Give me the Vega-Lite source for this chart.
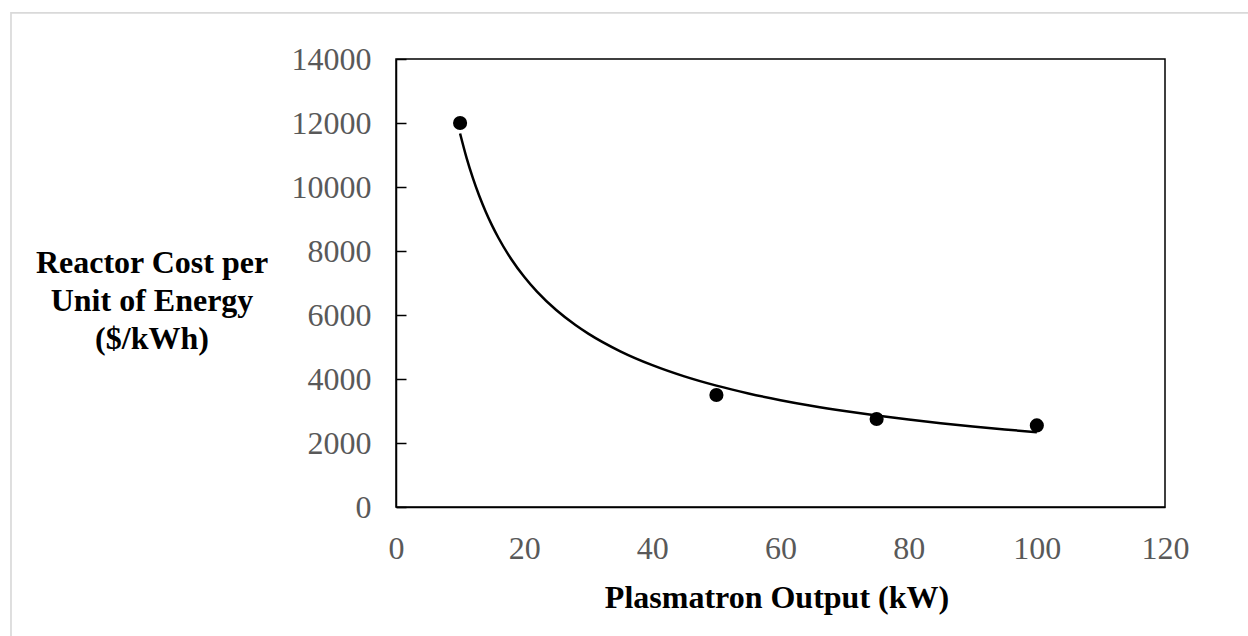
{
  "$schema": "https://vega.github.io/schema/vega-lite/v6.json",
  "autosize": "none",
  "width": 769,
  "height": 448,
  "padding": {"left": 396, "top": 59, "right": 83, "bottom": 129},
  "background": "white",
  "config": {
    "view": {"stroke": "black", "strokeWidth": 1.5},
    "font": "Liberation Serif"
  },
  "datasets": {
    "frame": [{"x": -60.08, "x2": 140, "y": 15440, "y2": -6000}],
    "trend": [
      {"x": 10, "y": 11672}, {"x": 11, "y": 10920}, {"x": 12, "y": 10277},
      {"x": 13, "y": 9718}, {"x": 14, "y": 9227}, {"x": 15, "y": 8793},
      {"x": 16, "y": 8406}, {"x": 18, "y": 7742}, {"x": 20, "y": 7193},
      {"x": 22, "y": 6730}, {"x": 25, "y": 6155}, {"x": 28, "y": 5687},
      {"x": 30, "y": 5419}, {"x": 35, "y": 4866}, {"x": 40, "y": 4433},
      {"x": 45, "y": 4082}, {"x": 50, "y": 3792}, {"x": 55, "y": 3548},
      {"x": 60, "y": 3339}, {"x": 65, "y": 3157}, {"x": 70, "y": 2998},
      {"x": 75, "y": 2857}, {"x": 80, "y": 2732}, {"x": 85, "y": 2619},
      {"x": 90, "y": 2516}, {"x": 95, "y": 2423}, {"x": 100, "y": 2338}
    ],
    "points": [
      {"x": 10, "y": 12000}, {"x": 50, "y": 3500},
      {"x": 75, "y": 2750}, {"x": 100, "y": 2550}
    ]
  },
  "layer": [
    {
      "data": {"name": "points"},
      "mark": {"type": "point", "filled": true, "color": "black", "size": 200, "opacity": 1, "shape": "circle"},
      "encoding": {
        "x": {
          "field": "x", "type": "quantitative",
          "scale": {"domain": [0, 120], "nice": false, "zero": false},
          "axis": {
            "title": "Plasmatron Output (kW)",
            "values": [0, 20, 40, 60, 80, 100, 120],
            "grid": false,
            "domainColor": "black", "domainWidth": 1.5,
            "ticks": false, "tickSize": 0,
            "labelFont": "Liberation Serif", "labelFontSize": 32, "labelColor": "#595959",
            "labelPadding": 26, "labelFlush": false, "labelOverlap": false,
            "titleFont": "Liberation Serif", "titleFontSize": 32, "titleFontWeight": "bold", "titleColor": "black",
            "titleX": 380.5, "titleY": 100, "titleBaseline": "alphabetic", "titleAlign": "center"
          }
        },
        "y": {
          "field": "y", "type": "quantitative",
          "scale": {"domain": [0, 14000], "nice": false, "zero": false},
          "axis": {
            "title": ["Reactor Cost per", "Unit of Energy", "($/kWh)"],
            "values": [0, 2000, 4000, 6000, 8000, 10000, 12000, 14000],
            "format": "d",
            "grid": false,
            "domainColor": "black", "domainWidth": 1.5,
            "tickColor": "black", "tickWidth": 1.5, "tickSize": -10,
            "labelFont": "Liberation Serif", "labelFontSize": 32, "labelColor": "#595959",
            "labelPadding": 35, "labelAlign": "right", "labelBaseline": "middle",
            "labelFlush": false, "labelOverlap": false,
            "titleFont": "Liberation Serif", "titleFontSize": 32, "titleFontWeight": "bold", "titleColor": "black",
            "titleAngle": 0, "titleAlign": "center", "titleBaseline": "alphabetic",
            "titleX": -244.5, "titleY": 213, "titleLineHeight": 38
          }
        }
      }
    },
    {
      "data": {"name": "trend"},
      "mark": {"type": "line", "color": "black", "strokeWidth": 2.5, "interpolate": "monotone"},
      "encoding": {
        "x": {"field": "x", "type": "quantitative"},
        "y": {"field": "y", "type": "quantitative"}
      }
    },
    {
      "data": {"name": "frame"},
      "mark": {"type": "rect", "fill": null, "fillOpacity": 0, "stroke": "#d9d9d9", "strokeWidth": 1.7, "clip": false},
      "encoding": {
        "x": {"field": "x", "type": "quantitative"},
        "x2": {"field": "x2"},
        "y": {"field": "y", "type": "quantitative"},
        "y2": {"field": "y2"}
      }
    }
  ]
}
